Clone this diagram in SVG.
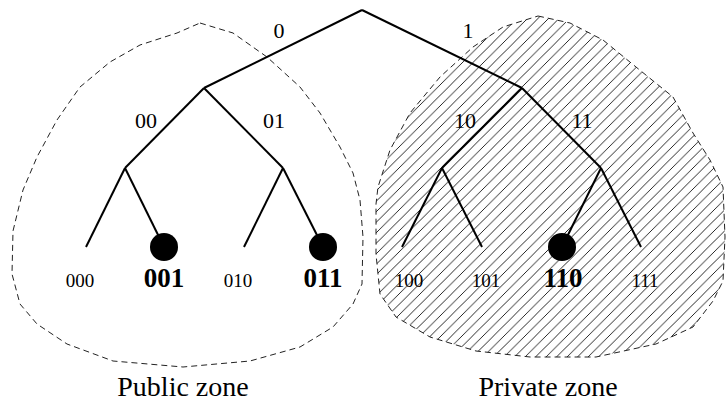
<svg xmlns="http://www.w3.org/2000/svg" width="726" height="408" viewBox="0 0 726 408">
<defs>
<pattern id="hatch" patternUnits="userSpaceOnUse" width="10.5" height="10.5">
<path d="M0,10.5 L10.5,0 M-1,1 L1,-1 M9.5,11.5 L11.5,9.5" stroke="#111" stroke-width="0.9" fill="none"/>
</pattern>
</defs>
<style>
.zone{fill:none;stroke:#222;stroke-width:1;stroke-dasharray:6 4}
.edge{stroke:#000;stroke-width:2;fill:none}
.lbl{font-family:"Liberation Serif",serif;font-size:22px;text-anchor:middle;fill:#000}
.leaf{font-family:"Liberation Serif",serif;font-size:19px;text-anchor:middle;fill:#000}
.bold{font-family:"Liberation Serif",serif;font-size:27px;font-weight:bold;text-anchor:middle;fill:#000}
.zlbl{font-family:"Liberation Serif",serif;font-size:28px;text-anchor:middle;fill:#000}
.dot{fill:#000}
</style>
<g id="public-zone">
<path class="zone" d="M200,23 L233,33 L267,57 L300,87 L320,113 L340,147 L353,173 L360,200 L363,237 L362,284 L353,304 L333,327 L300,347 L250,361 L183,367 L113,361 L67,344 L37,324 L20,304 L12,274 L13,231 L23,190 L37,157 L57,120 L80,87 L110,62 L140,45 L177,33 Z"/>
<text class="zlbl" x="183" y="396">Public zone</text>
</g>
<g id="private-zone">
<path d="M538,16 L570,23 L603,40 L636,67 L673,97 L693,133 L710,160 L723,187 L725,237 L723,281 L713,301 L693,327 L656,344 L596,357 L530,357 L476,351 L430,337 L396,317 L380,294 L376,254 L376,204 L378,187 L390,150 L410,113 L440,77 L473,47 L503,27 Z" fill="url(#hatch)" stroke="#222" stroke-width="1" stroke-dasharray="6 4"/>
<text class="zlbl" x="548" y="396">Private zone</text>
</g>
<g id="connectors">
<path class="edge" d="M362,10 L204,88"/>
<path class="edge" d="M362,10 L522,88"/>
<path class="edge" d="M204,88 L125,168"/>
<path class="edge" d="M204,88 L283,168"/>
<path class="edge" d="M522,88 L442,168"/>
<path class="edge" d="M522,88 L601,168"/>
<path class="edge" d="M125,168 L86,247"/>
<path class="edge" d="M125,168 L164,247"/>
<path class="edge" d="M283,168 L244,247"/>
<path class="edge" d="M283,168 L323,247"/>
<path class="edge" d="M442,168 L402,247"/>
<path class="edge" d="M442,168 L482,247"/>
<path class="edge" d="M601,168 L562,247"/>
<path class="edge" d="M601,168 L641,247"/>
</g>
<g id="node-0"><text class="lbl" x="279" y="38">0</text></g>
<g id="node-1"><text class="lbl" x="468" y="38">1</text></g>
<g id="node-00"><text class="lbl" x="146" y="128">00</text></g>
<g id="node-01"><text class="lbl" x="274" y="128">01</text></g>
<g id="node-10"><text class="lbl" x="465" y="128">10</text></g>
<g id="node-11"><text class="lbl" x="582" y="128">11</text></g>
<g id="leaf-000"><text class="leaf" x="80" y="287">000</text></g>
<g id="leaf-001"><circle class="dot" cx="164" cy="247" r="14"/><text class="bold" x="164" y="287">001</text></g>
<g id="leaf-010"><text class="leaf" x="238" y="287">010</text></g>
<g id="leaf-011"><circle class="dot" cx="323" cy="247" r="14"/><text class="bold" x="323" y="287">011</text></g>
<g id="leaf-100"><text class="leaf" x="409" y="287">100</text></g>
<g id="leaf-101"><text class="leaf" x="486" y="287">101</text></g>
<g id="leaf-110"><circle class="dot" cx="562" cy="247" r="14"/><text class="bold" x="563" y="287">110</text></g>
<g id="leaf-111"><text class="leaf" x="645" y="287">111</text></g>
</svg>
